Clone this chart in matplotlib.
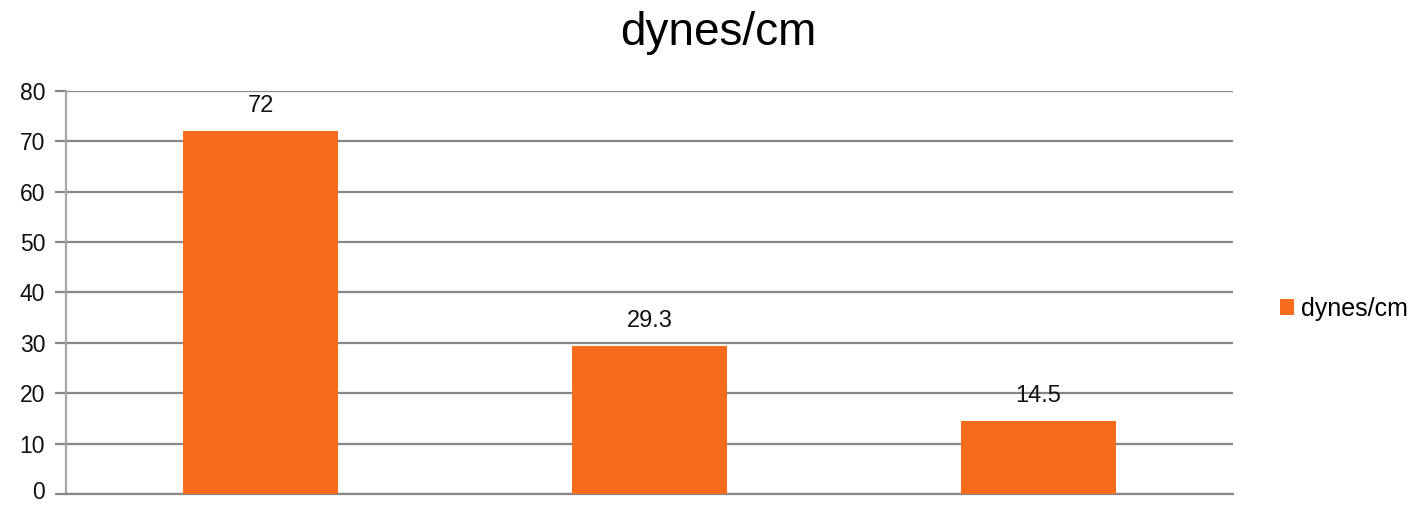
import matplotlib
matplotlib.use("Agg")
import matplotlib.pyplot as plt
import matplotlib.transforms as mtransforms
from matplotlib.patches import Patch

plt.rcParams['font.family'] = ['Liberation Sans', 'DejaVu Sans']

series_name = "dynes/cm"
categories = ["", " ", "  "]
values = [72, 29.3, 14.5]
value_labels = ["72", "29.3", "14.5"]
y_ticks = [0, 10, 20, 30, 40, 50, 60, 70, 80]

bar_color = "#F76B1C"
grid_color = "#878787"

W, H = 1415, 505
fig = plt.figure(figsize=(W / 100, H / 100), dpi=100)
ax = fig.add_axes([66 / W, (H - 494) / H, (1233 - 66) / W, (494 - 91) / H])

x = list(range(len(values)))
ax.bar(x, values, width=0.4, color=bar_color, zorder=3)

for xi, v, lab in zip(x, values, value_labels):
    ax.annotate(lab, (xi, v), xytext=(0, 18), textcoords="offset points",
                ha="center", va="center", fontsize=17, color="#111111")

ax.set_xlim(-0.5, len(values) - 0.5)
ax.set_ylim(0, 80)
ax.set_yticks(y_ticks)
ax.set_xticks([])
ax.yaxis.grid(True, color=grid_color, linewidth=1.6, zorder=0)
ax.tick_params(axis="y", length=8, width=1.6, color=grid_color,
               labelsize=16.5, pad=7, labelcolor="#111111")

# lift the bottom tick label a touch so it stays inside the canvas
lift = mtransforms.ScaledTranslation(0, 3 / 72, fig.dpi_scale_trans)
bottom_label = ax.get_yticklabels()[0]
bottom_label.set_transform(bottom_label.get_transform() + lift)

for side in ["top", "right"]:
    ax.spines[side].set_visible(False)
ax.spines["left"].set_color("#A6A6A6")
ax.spines["left"].set_linewidth(1.6)
ax.spines["bottom"].set_color(grid_color)
ax.spines["bottom"].set_linewidth(1.6)

fig.text(718 / W, 1 - 33 / H, series_name, ha="center", va="center",
         fontsize=33, color="#000000")

handle = Patch(facecolor=bar_color, edgecolor="none")
fig.legend([handle], [series_name], loc="center left",
           bbox_to_anchor=(1280 / W, 1 - 309 / H), frameon=False,
           fontsize=18, handlelength=0.55, handleheight=0.6,
           handletextpad=0.3, borderaxespad=0, borderpad=0)

fig.savefig("out.png", dpi=100)
